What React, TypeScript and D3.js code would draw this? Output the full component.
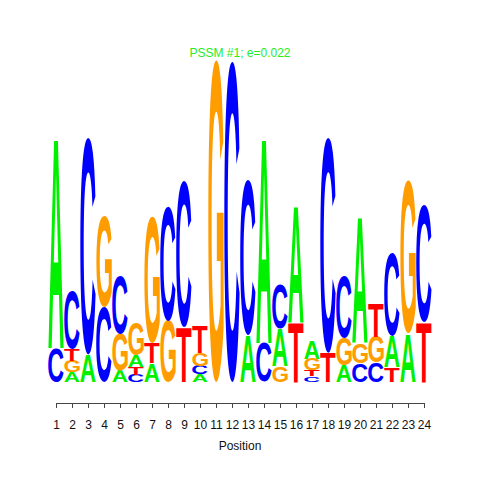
import { useEffect, useRef } from 'react';
import * as d3 from 'd3';

const POSITIONS = [1, 2, 3, 4, 5, 6, 7, 8, 9, 10, 11, 12, 13, 14, 15, 16, 17, 18, 19, 20, 21, 22, 23, 24];
const BASES = ['A', 'C', 'G', 'T'];

// letter heights in bits, one value per position
const A_BITS = [1.30, 0.06, 0.17, 0, 0.07, 0.07, 0.115, 0, 0, 0.048, 0, 0, 0.29, 1.27, 0.23, 0.72, 0.11, 0, 0.10, 0.78, 0, 0.19, 0.30, 0];
const C_BITS = [0.21, 0.36, 1.34, 0.46, 0.36, 0.045, 0, 0.71, 0.90, 0.052, 0, 1.98, 0.96, 0.24, 0.28, 0, 0.035, 1.33, 0.38, 0.115, 0.12, 0.51, 0, 0.72];
const G_BITS = [0, 0.07, 0, 0.56, 0.23, 0.20, 0.78, 0.38, 0, 0.08, 1.99, 0, 0, 0, 0.10, 0, 0.07, 0, 0.17, 0.125, 0.16, 0, 0.94, 0];
const T_BITS = [0, 0.075, 0, 0, 0, 0.05, 0.125, 0, 0.34, 0.17, 0, 0, 0, 0, 0, 0.37, 0.04, 0.18, 0, 0, 0.21, 0.09, 0, 0.37];

const BASE_COLORS: Record<string, string> = { A: '#00f000', C: '#0000ff', G: '#ff9c00', T: '#ff0000' };
const TITLE = 'PSSM #1; e=0.022';
const X_LABEL = 'Position';

const FONT_FAMILY = '"Liberation Sans", Arial, sans-serif';
const GLYPH_SIZE = 100;

// tight ink box of a glyph, measured on a canvas
function glyphBox(ch: string) {
  const ctx = document.createElement('canvas').getContext('2d')!;
  ctx.font = `bold ${GLYPH_SIZE}px ${FONT_FAMILY}`;
  const m = ctx.measureText(ch);
  return {
    x0: -m.actualBoundingBoxLeft,
    x1: m.actualBoundingBoxRight,
    y0: -m.actualBoundingBoxAscent,
    y1: m.actualBoundingBoxDescent,
  };
}

export default function App() {
  const svgRef = useRef<SVGSVGElement>(null);

  useEffect(() => {
    const W = 480, H = 480;
    const svg = d3.select(svgRef.current);
    svg.selectAll('*').remove();
    svg.attr('width', W).attr('height', H);

    svg.append('rect').attr('width', W).attr('height', H).attr('fill', 'white');

    const x = d3.scaleBand<number>().domain(POSITIONS).range([48, 432]).padding(0);
    const xAxisScale = d3.scaleLinear().domain([1, 24]).range([56, 424]);
    const y = d3.scaleLinear().domain([0, 2]).range([382, 58]);

    const bits: Record<string, number[]> = { A: A_BITS, C: C_BITS, G: G_BITS, T: T_BITS };
    const boxes: Record<string, ReturnType<typeof glyphBox>> = {};
    BASES.forEach(b => { boxes[b] = glyphBox(b); });

    const g = svg.append('g');

    POSITIONS.forEach((p, i) => {
      const stack = BASES.map(b => ({ base: b, v: bits[b][i] }))
        .filter(d => d.v > 0)
        .sort((a, b) => a.v - b.v);
      let cum = 0;
      const left = x(p)! + 0.3;
      const w = x.bandwidth() - 0.6;
      stack.forEach(d => {
        const top = y(cum + d.v);
        const h = y(cum) - top;
        cum += d.v;
        const box = boxes[d.base];
        const sx = w / (box.x1 - box.x0);
        const sy = h / (box.y1 - box.y0);
        g.append('text')
          .attr('font-family', FONT_FAMILY)
          .attr('font-weight', 'bold')
          .attr('font-size', GLYPH_SIZE)
          .attr('fill', BASE_COLORS[d.base])
          .attr('transform', `translate(${left},${top}) scale(${sx},${sy}) translate(${-box.x0},${-box.y0})`)
          .text(d.base);
      });
    });

    // X axis
    svg.append('g')
      .attr('transform', 'translate(0,403)')
      .call(d3.axisBottom(xAxisScale).tickValues(POSITIONS).tickFormat(d3.format('d')).tickSize(5).tickSizeOuter(0).tickPadding(12))
      .call(ax => ax.attr('font-family', FONT_FAMILY).attr('font-size', 12))
      .call(ax => ax.select('.domain').attr('stroke', '#444'))
      .call(ax => ax.selectAll('.tick line').attr('stroke', '#444'))
      .call(ax => ax.selectAll('.tick text').attr('fill', '#111'));

    svg.append('text')
      .attr('x', 240).attr('y', 450)
      .attr('text-anchor', 'middle')
      .attr('font-family', FONT_FAMILY).attr('font-size', 12).attr('fill', '#111')
      .text(X_LABEL);

    svg.append('text')
      .attr('x', 240).attr('y', 57)
      .attr('text-anchor', 'middle')
      .attr('font-family', FONT_FAMILY).attr('font-size', 12).attr('fill', '#22ee22')
      .text(TITLE);
  }, []);

  return (
    <div style={{ position: 'fixed', left: 0, top: 0, width: 480, height: 480, background: 'white' }}>
      <svg ref={svgRef} style={{ display: 'block' }} />
    </div>
  );
}
